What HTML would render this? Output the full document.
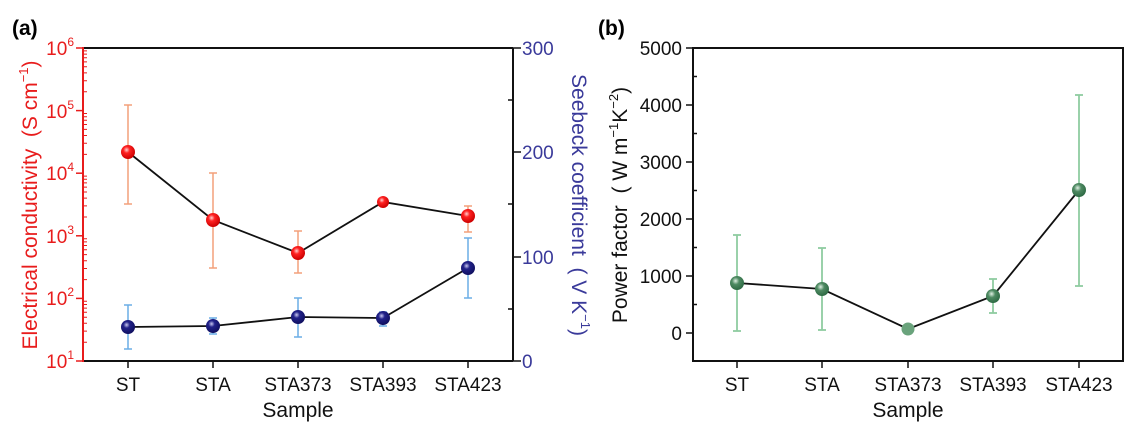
<!DOCTYPE html>
<html><head><meta charset="utf-8"><style>
html,body{margin:0;padding:0;background:#fff}
svg{display:block;font-family:"Liberation Sans",Arial,sans-serif}
</style></head><body>
<svg width="1137" height="436" viewBox="0 0 1137 436" xmlns="http://www.w3.org/2000/svg">
<defs>
<radialGradient id="gr" cx="0.4" cy="0.35" r="0.65"><stop offset="0" stop-color="#ffd0d0"/><stop offset="0.35" stop-color="#f22"/><stop offset="1" stop-color="#c00"/></radialGradient>
<radialGradient id="gb" cx="0.4" cy="0.35" r="0.65"><stop offset="0" stop-color="#c8c8f0"/><stop offset="0.35" stop-color="#22228a"/><stop offset="1" stop-color="#101060"/></radialGradient>
<radialGradient id="gg" cx="0.4" cy="0.35" r="0.65"><stop offset="0" stop-color="#e0f0e4"/><stop offset="0.4" stop-color="#4e8a62"/><stop offset="1" stop-color="#2e6a44"/></radialGradient>
<path id="dec" d="M83 342.2h4M83 331.1h4M83 323.3h4M83 317.2h4M83 312.3h4M83 308.1h4M83 304.5h4M83 301.3h4" stroke="#e81c1c" stroke-width="1"/>
</defs>
<text x="12" y="35" font-size="21" font-weight="bold">(a)</text>
<text x="598" y="35" font-size="21" font-weight="bold">(b)</text>

<g stroke="#111" stroke-width="2" fill="none">
<line x1="83" y1="48" x2="513" y2="48"/>
<line x1="83" y1="361" x2="513" y2="361"/>
<line x1="513" y1="48" x2="513" y2="361"/>
</g>
<line x1="83" y1="47" x2="83" y2="362" stroke="#e81c1c" stroke-width="2"/>
<g stroke="#e81c1c" stroke-width="1.5">
<line x1="76" y1="48" x2="83" y2="48"/><line x1="76" y1="110.6" x2="83" y2="110.6"/><line x1="76" y1="173.2" x2="83" y2="173.2"/><line x1="76" y1="235.8" x2="83" y2="235.8"/><line x1="76" y1="298.4" x2="83" y2="298.4"/><line x1="76" y1="361" x2="83" y2="361"/>
</g>
<use href="#dec"/>
<use href="#dec" transform="translate(0,-62.6)"/>
<use href="#dec" transform="translate(0,-125.2)"/>
<use href="#dec" transform="translate(0,-187.8)"/>
<use href="#dec" transform="translate(0,-250.4)"/>
<g stroke="#111" stroke-width="1.5">
<line x1="513" y1="48" x2="521" y2="48"/><line x1="513" y1="152" x2="521" y2="152"/><line x1="513" y1="257" x2="521" y2="257"/><line x1="513" y1="361" x2="521" y2="361"/>
<line x1="508" y1="100" x2="513" y2="100"/><line x1="508" y1="204" x2="513" y2="204"/><line x1="508" y1="309" x2="513" y2="309"/>
<line x1="128" y1="361" x2="128" y2="368"/><line x1="213" y1="361" x2="213" y2="368"/><line x1="298" y1="361" x2="298" y2="368"/><line x1="383" y1="361" x2="383" y2="368"/><line x1="468" y1="361" x2="468" y2="368"/>
</g>
<g fill="#e81c1c" font-size="19" text-anchor="end">
<text x="74" y="55">10<tspan font-size="12" dy="-9">6</tspan></text>
<text x="74" y="118">10<tspan font-size="12" dy="-9">5</tspan></text>
<text x="74" y="180">10<tspan font-size="12" dy="-9">4</tspan></text>
<text x="74" y="243">10<tspan font-size="12" dy="-9">3</tspan></text>
<text x="74" y="305">10<tspan font-size="12" dy="-9">2</tspan></text>
<text x="74" y="368">10<tspan font-size="12" dy="-9">1</tspan></text>
</g>
<g fill="#3a3a9a" font-size="19">
<text x="522" y="55">300</text><text x="522" y="159">200</text><text x="522" y="264">100</text><text x="522" y="368">0</text>
</g>
<text transform="translate(37,205) rotate(-90)" text-anchor="middle" fill="#e81c1c" font-size="21">Electrical conductivity&#160;&#160;(S cm<tspan font-size="13" dy="-9">−1</tspan><tspan dy="9">)</tspan></text>
<text transform="translate(572,205) rotate(90)" text-anchor="middle" fill="#3a3a9a" font-size="21">Seebeck coefficient&#160;&#160;(&#160;V K<tspan font-size="13" dy="-9">−1</tspan><tspan dy="9">)</tspan></text>
<g font-size="19" text-anchor="middle" fill="#111">
<text x="128" y="391">ST</text><text x="213" y="391">STA</text><text x="298" y="391">STA373</text><text x="383" y="391">STA393</text><text x="468" y="391">STA423</text>
<text x="298" y="417" font-size="21">Sample</text>
</g>
<g stroke="#f2a07a" stroke-width="1.5">
<line x1="128" y1="105" x2="128" y2="204"/><line x1="124" y1="105" x2="132" y2="105"/><line x1="124" y1="204" x2="132" y2="204"/>
<line x1="213" y1="173" x2="213" y2="268"/><line x1="209" y1="173" x2="217" y2="173"/><line x1="209" y1="268" x2="217" y2="268"/>
<line x1="298" y1="231" x2="298" y2="273"/><line x1="294" y1="231" x2="302" y2="231"/><line x1="294" y1="273" x2="302" y2="273"/>
<line x1="383" y1="197" x2="383" y2="207"/>
<line x1="468" y1="206" x2="468" y2="232"/><line x1="464" y1="206" x2="472" y2="206"/><line x1="464" y1="232" x2="472" y2="232"/>
</g>
<g stroke="#6aaee6" stroke-width="1.5">
<line x1="128" y1="305" x2="128" y2="349"/><line x1="124" y1="305" x2="132" y2="305"/><line x1="124" y1="349" x2="132" y2="349"/>
<line x1="213" y1="318" x2="213" y2="334"/><line x1="209" y1="318" x2="217" y2="318"/><line x1="209" y1="334" x2="217" y2="334"/>
<line x1="298" y1="298" x2="298" y2="337"/><line x1="294" y1="298" x2="302" y2="298"/><line x1="294" y1="337" x2="302" y2="337"/>
<line x1="383" y1="312" x2="383" y2="326"/><line x1="379" y1="312" x2="387" y2="312"/><line x1="379" y1="326" x2="387" y2="326"/>
<line x1="468" y1="238" x2="468" y2="298"/><line x1="464" y1="238" x2="472" y2="238"/><line x1="464" y1="298" x2="472" y2="298"/>
</g>
<polyline points="128,152 213,220 298,253 383,202 468,216" fill="none" stroke="#111" stroke-width="1.8"/>
<polyline points="128,327 213,326 298,317 383,318 468,268" fill="none" stroke="#111" stroke-width="1.8"/>
<g fill="url(#gr)">
<circle cx="128" cy="152" r="7"/><circle cx="213" cy="220" r="7"/><circle cx="298" cy="253" r="7"/><circle cx="383" cy="202" r="6"/><circle cx="468" cy="216" r="7"/>
</g>
<g fill="url(#gb)">
<circle cx="128" cy="327" r="7"/><circle cx="213" cy="326" r="7"/><circle cx="298" cy="317" r="7"/><circle cx="383" cy="318" r="7"/><circle cx="468" cy="268" r="7"/>
</g>

<rect x="693" y="48" width="430" height="313" fill="none" stroke="#111" stroke-width="2"/>
<g stroke="#111" stroke-width="1.5">
<line x1="686" y1="48" x2="693" y2="48"/><line x1="686" y1="105" x2="693" y2="105"/><line x1="686" y1="162" x2="693" y2="162"/><line x1="686" y1="219" x2="693" y2="219"/><line x1="686" y1="276" x2="693" y2="276"/><line x1="686" y1="333" x2="693" y2="333"/>
<line x1="693" y1="76.5" x2="697" y2="76.5"/><line x1="693" y1="133.5" x2="697" y2="133.5"/><line x1="693" y1="190.5" x2="697" y2="190.5"/><line x1="693" y1="247.5" x2="697" y2="247.5"/><line x1="693" y1="304.5" x2="697" y2="304.5"/>
<line x1="737" y1="361" x2="737" y2="368"/><line x1="822" y1="361" x2="822" y2="368"/><line x1="908" y1="361" x2="908" y2="368"/><line x1="993" y1="361" x2="993" y2="368"/><line x1="1079" y1="361" x2="1079" y2="368"/>
</g>
<g font-size="19" text-anchor="end" fill="#111">
<text x="682" y="55">5000</text><text x="682" y="112">4000</text><text x="682" y="169">3000</text><text x="682" y="226">2000</text><text x="682" y="283">1000</text><text x="682" y="340">0</text>
</g>
<text transform="translate(627,205) rotate(-90)" text-anchor="middle" fill="#111" font-size="21">Power factor&#160;&#160;(&#160;W m<tspan font-size="13" dy="-9">−1</tspan><tspan dy="9">K</tspan><tspan font-size="13" dy="-9">−2</tspan><tspan dy="9">)</tspan></text>
<g font-size="19" text-anchor="middle" fill="#111">
<text x="737" y="391">ST</text><text x="822" y="391">STA</text><text x="908" y="391">STA373</text><text x="993" y="391">STA393</text><text x="1079" y="391">STA423</text>
<text x="908" y="417" font-size="21">Sample</text>
</g>
<g stroke="#8fcca0" stroke-width="1.8">
<line x1="737" y1="235" x2="737" y2="331"/><line x1="733" y1="235" x2="741" y2="235"/><line x1="733" y1="331" x2="741" y2="331"/>
<line x1="822" y1="248" x2="822" y2="330"/><line x1="818" y1="248" x2="826" y2="248"/><line x1="818" y1="330" x2="826" y2="330"/>
<line x1="993" y1="279" x2="993" y2="313"/><line x1="989" y1="279" x2="997" y2="279"/><line x1="989" y1="313" x2="997" y2="313"/>
<line x1="1079" y1="95" x2="1079" y2="286"/><line x1="1075" y1="95" x2="1083" y2="95"/><line x1="1075" y1="286" x2="1083" y2="286"/>
</g>
<polyline points="737,283 822,289 908,329 993,296 1079,190" fill="none" stroke="#111" stroke-width="1.8"/>
<g fill="url(#gg)">
<circle cx="737" cy="283" r="7"/><circle cx="822" cy="289" r="7"/><circle cx="908" cy="329" r="6.5" fill="#6aa37c"/><circle cx="993" cy="296" r="7"/><circle cx="1079" cy="190" r="7"/>
</g>
</svg>
</body></html>
